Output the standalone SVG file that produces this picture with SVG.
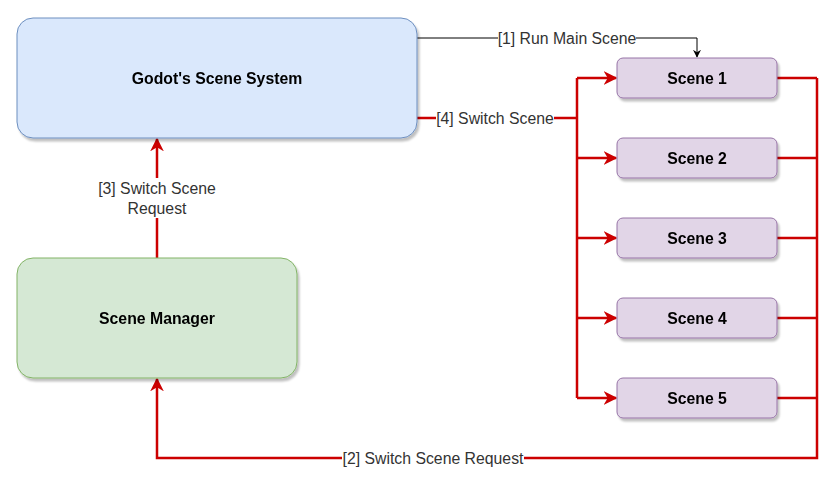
<svg xmlns="http://www.w3.org/2000/svg" width="839" height="483" viewBox="0 0 839 483">
<style>
.node{filter:url(#sh)}
.t{font-family:"Liberation Sans",Arial,sans-serif;font-size:15.8px;font-weight:bold;fill:#000;text-anchor:middle;dominant-baseline:central}
.l{font-family:"Liberation Sans",Arial,sans-serif;font-size:15.8px;fill:#333;text-anchor:middle;dominant-baseline:central}
.red{fill:none;stroke:#CC0000;stroke-width:2.5}
.blk{fill:none;stroke:#000;stroke-width:1}
.scene{fill:#e1d5e7;stroke:#9673a6;stroke-width:1}
</style>
<defs>
<filter id="sh" x="-10%" y="-10%" width="130%" height="140%">
<feGaussianBlur in="SourceAlpha" stdDeviation="1"/>
<feOffset dx="2" dy="3" result="o"/>
<feComponentTransfer><feFuncA type="linear" slope="0.25"/></feComponentTransfer>
<feMerge><feMergeNode/><feMergeNode in="SourceGraphic"/></feMerge>
</filter>
<marker id="ar" viewBox="0 0 10 10" refX="9" refY="5" markerWidth="5.5" markerHeight="5.5" orient="auto" markerUnits="strokeWidth">
<path d="M0,0 L10,5 L0,10 L3,5 Z" fill="#CC0000"/>
</marker>
<marker id="ab" viewBox="0 0 10 10" refX="9" refY="5" markerWidth="8" markerHeight="8" orient="auto" markerUnits="strokeWidth">
<path d="M0,0 L10,5 L0,10 L3,5 Z" fill="#000"/>
</marker>
</defs>
<rect width="839" height="483" fill="#fff"/>
<g id="connectors">
<path class="blk" d="M417,38 H697 V57" marker-end="url(#ab)"/>
<path class="red" d="M417,118 H577"/>
<path class="red" d="M577,78 V398"/>
<path class="red" d="M577,78 H616" marker-end="url(#ar)"/>
<path class="red" d="M577,158 H616" marker-end="url(#ar)"/>
<path class="red" d="M577,238 H616" marker-end="url(#ar)"/>
<path class="red" d="M577,318 H616" marker-end="url(#ar)"/>
<path class="red" d="M577,398 H616" marker-end="url(#ar)"/>
<path class="red" d="M777,78 H817 M777,158 H817 M777,238 H817 M777,318 H817 M777,398 H817"/>
<path class="red" d="M817,78 V458 H157 V379" marker-end="url(#ar)"/>
<path class="red" d="M157,258 V139" marker-end="url(#ar)"/>
<rect x="498" y="29" width="138" height="18" fill="#fff"/>
<text class="l" x="567" y="38">[1] Run Main Scene</text>
<rect x="436" y="109" width="118" height="18" fill="#fff"/>
<text class="l" x="495" y="118">[4] Switch Scene</text>
<rect x="342" y="449" width="182" height="18" fill="#fff"/>
<text class="l" x="433" y="458">[2] Switch Scene Request</text>
<rect x="97" y="178" width="120" height="40" fill="#fff"/>
<text class="l" x="157" y="188">[3] Switch Scene</text>
<text class="l" x="157" y="208">Request</text>
</g>
<g id="godot" class="node">
<rect x="17" y="18" width="400" height="120" rx="16" fill="#dae8fc" stroke="#6c8ebf"/>
<text class="t" x="217" y="78">Godot's Scene System</text>
</g>
<g id="manager" class="node">
<rect x="17" y="258" width="280" height="120" rx="16" fill="#d5e8d4" stroke="#82b366"/>
<text class="t" x="157" y="318">Scene Manager</text>
</g>
<g id="scene1" class="node"><rect class="scene" x="617" y="58" width="160" height="40" rx="6"/><text class="t" x="697" y="78">Scene 1</text></g>
<g id="scene2" class="node"><rect class="scene" x="617" y="138" width="160" height="40" rx="6"/><text class="t" x="697" y="158">Scene 2</text></g>
<g id="scene3" class="node"><rect class="scene" x="617" y="218" width="160" height="40" rx="6"/><text class="t" x="697" y="238">Scene 3</text></g>
<g id="scene4" class="node"><rect class="scene" x="617" y="298" width="160" height="40" rx="6"/><text class="t" x="697" y="318">Scene 4</text></g>
<g id="scene5" class="node"><rect class="scene" x="617" y="378" width="160" height="40" rx="6"/><text class="t" x="697" y="398">Scene 5</text></g>
</svg>
